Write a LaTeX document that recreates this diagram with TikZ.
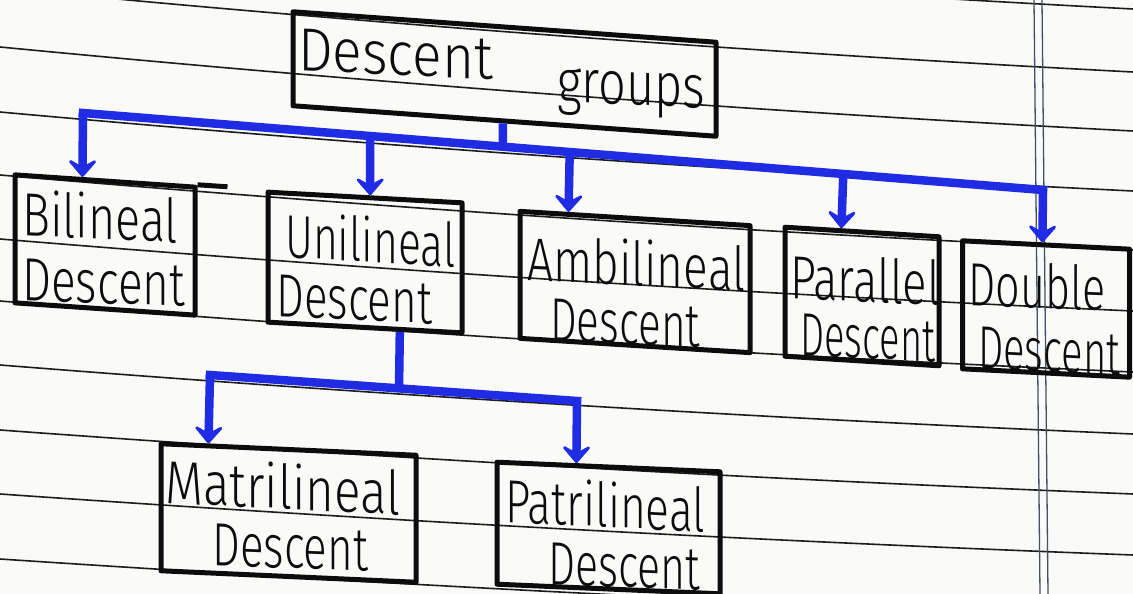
\documentclass[tikz,border=0pt]{standalone}
\usepackage{fontspec}
\setmainfont{Fira Sans Light}
\usepackage{graphicx}
\usetikzlibrary{arrows.meta,calc}
\definecolor{ink}{RGB}{12,12,12}
\definecolor{pen}{RGB}{32,44,228}
\definecolor{rulecol}{RGB}{28,28,28}
\definecolor{margincol}{RGB}{70,80,100}
\definecolor{paper}{RGB}{250,250,248}
% set a word to a given width, keeping its height
\newcommand\handword[2]{\resizebox{#1}{\height}{#2}}
\begin{document}
\begin{tikzpicture}[x=1pt,y=-1pt,
  box/.style={draw=ink, line width=5pt, inner sep=0pt, line join=round},
  word/.style={anchor=base west, inner sep=0pt, font=\fontsize{61}{63}\selectfont, text=ink},
  pentrace/.style={draw=pen, line width=8.5pt},
  penarrow/.style={pentrace, -{Stealth[length=21pt,width=36pt,inset=10pt,round]}},
  ruling/.style={draw=rulecol, line width=1.6pt},
  marginline/.style={draw=margincol, line width=1.3pt}]
\fill[paper] (0,0) rectangle (1133,594);
\useasboundingbox (0,0) rectangle (1133,594);
\clip (0,0) rectangle (1133,594);

% ruled lines of the notebook page
\foreach \a/\d in {-75/84,-12/84,47/84,112/79,175/75,239/72,301/71,365/69,430/64,494/61,559/58}
  \draw[ruling] (0,\a) .. controls (377.7,{\a+0.4333*\d}) and (755.3,{\a+0.7667*\d}) .. (1133,{\a+\d});

% double margin line
\draw[marginline] (1034,0) -- (1040,594);
\draw[marginline] (1042,0) -- (1048,594);

% boxes
\node[box, yslant=-0.072, minimum width=423pt, minimum height=94pt] (top) at (504.5,74) {};
\node[box, yslant=-0.068, minimum width=180pt, minimum height=128pt] (bil) at (105,245) {};
\node[box, yslant=-0.055, minimum width=194pt, minimum height=130pt] (uni) at (365,262.5) {};
\node[box, yslant=-0.062, minimum width=230pt, minimum height=127pt] (amb) at (635,282) {};
\node[box, yslant=-0.062, minimum width=154pt, minimum height=129pt] (par) at (862,296.5) {};
\node[box, yslant=-0.05, minimum width=167pt, minimum height=128pt] (dbl) at (1046,309) {};
\node[box, yslant=-0.045, minimum width=255pt, minimum height=127pt] (mat) at (288.5,513) {};
\node[box, yslant=-0.043, minimum width=223pt, minimum height=122pt] (pat) at (608.5,528) {};
\draw[draw=ink, line width=5pt] (bil.north east) -- ++(30,2);

% words
\node[word, yslant=-0.05] (top-a) at (298,70) {\handword{195pt}{Descent}};
\node[word, yslant=-0.04] (top-b) at (557,102) {\handword{148pt}{groups}};
\node[word, yslant=-0.05] (bil-a) at (22,235) {\handword{156pt}{Bilineal}};
\node[word, yslant=-0.04] (bil-b) at (22,300) {\handword{163pt}{Descent}};
\node[word, yslant=-0.06] (uni-a) at (285,257) {\handword{170pt}{Unilineal}};
\node[word, yslant=-0.05] (uni-b) at (276,316) {\handword{156pt}{Descent}};
\node[word, yslant=-0.05] (amb-a) at (527,280) {\handword{218pt}{Ambilineal}};
\node[word, yslant=-0.05] (amb-b) at (550,340) {\handword{150pt}{Descent}};
\node[word, yslant=-0.05] (par-a) at (790,298) {\handword{150pt}{Parallel}};
\node[word, yslant=-0.05] (par-b) at (800,355) {\handword{135pt}{Descent}};
\node[word, yslant=-0.04] (dbl-a) at (968,305) {\handword{137pt}{Double}};
\node[word, yslant=-0.05] (dbl-b) at (978,368) {\handword{142pt}{Descent}};
\node[word, yslant=-0.05] (mat-a) at (165,503) {\handword{235pt}{Matrilineal}};
\node[word, yslant=-0.04] (mat-b) at (212,565) {\handword{156pt}{Descent}};
\node[word, yslant=-0.05] (pat-a) at (505,522) {\handword{200pt}{Patrilineal}};
\node[word, yslant=-0.04] (pat-b) at (548,584) {\handword{152pt}{Descent}};

% first level of blue connectors
\coordinate (busL) at (83,113);
\coordinate (busR) at (1043,190);
\coordinate (stem) at ($(top.south west)!0.496!(top.south east)$);
\coordinate (j0) at ($(busL)!0.4375!(busR)$);
\coordinate (j2) at ($(busL)!0.299!(busR)$);
\coordinate (j3) at ($(busL)!0.507!(busR)$);
\coordinate (j4) at ($(busL)!0.792!(busR)$);
\draw[pentrace, line cap=rect] (busL) -- (busR);
\draw[pentrace] (stem) -- (j0);
\draw[penarrow] (busL) -- ($(bil.north west)!0.378!(bil.north east)$);
\draw[penarrow] (j2) -- ($(uni.north west)!0.526!(uni.north east)$);
\draw[penarrow] (j3) -- ($(amb.north west)!0.217!(amb.north east)$);
\draw[penarrow] (j4) -- ($(par.north west)!0.370!(par.north east)$);
\draw[penarrow] (busR) -- ($(dbl.north west)!0.479!(dbl.north east)$);

% second level below Unilineal Descent
\coordinate (bus2L) at (210,375);
\coordinate (bus2R) at (577,401);
\coordinate (stem2) at ($(uni.south west)!0.675!(uni.south east)$);
\coordinate (k0) at ($(bus2L)!0.515!(bus2R)$);
\draw[pentrace, line cap=rect] (bus2L) -- (bus2R);
\draw[pentrace] (stem2) -- (k0);
\draw[penarrow] (bus2L) -- ($(mat.north west)!0.192!(mat.north east)$);
\draw[penarrow] (bus2R) -- ($(pat.north west)!0.359!(pat.north east)$);
\end{tikzpicture}
\end{document}
